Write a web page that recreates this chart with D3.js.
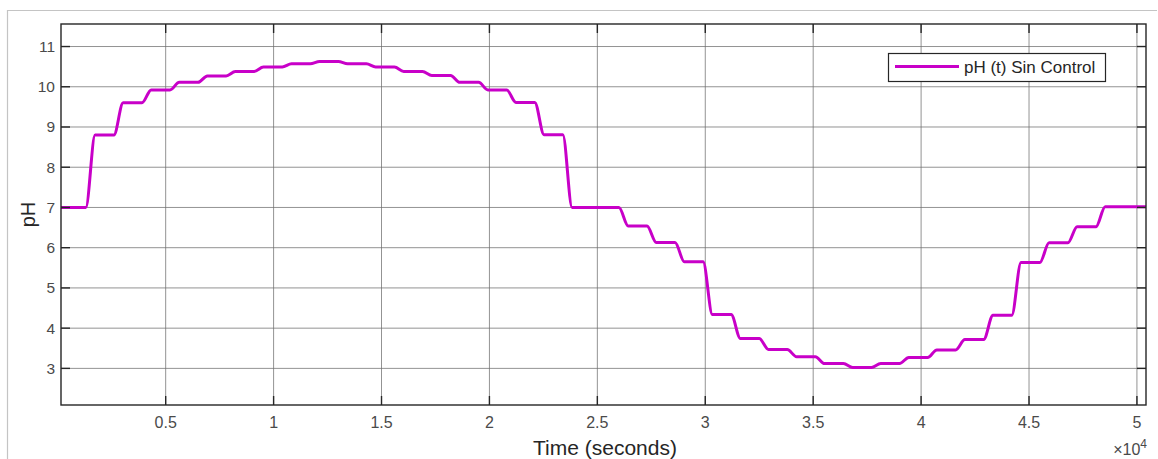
<html>
<head>
    <title>pH (t) Sin Control</title>
    <script src="https://d3js.org/d3.v7.min.js"></script>
</head>
<style>
    body {
        margin: 0;
        padding: 0;
        background: white;
    }

    text {
        font-family: "Liberation Sans", Arial, sans-serif;
    }
</style>

<body>
    <div id="chart"></div>
</body>

<script type="text/javascript">

    // step instants (s) and the pH level reached after each step
    const stepTimes = [0, 1300, 2600, 3900, 5200, 6500, 7800, 9100, 10400, 11700, 13000,
        14300, 15600, 16900, 18200, 19500, 20800, 22100, 23400, 24700, 26000,
        27300, 28600, 29900, 31200, 32500, 33800, 35100, 36400, 37700, 39000,
        40300, 41600, 42900, 44200, 45500, 46800, 48100];
    const pHLevels = [7.0, 8.8, 9.6, 9.92, 10.11, 10.27, 10.38, 10.49, 10.57, 10.63, 10.57,
        10.49, 10.38, 10.28, 10.11, 9.92, 9.61, 8.81, 7.0, 7.0, 6.54,
        6.13, 5.65, 4.34, 3.74, 3.47, 3.29, 3.12, 3.02, 3.12, 3.27,
        3.46, 3.72, 4.32, 5.63, 6.12, 6.52, 7.02];
    const tEnd = 50420;

    const xTicks = [5000, 10000, 15000, 20000, 25000, 30000, 35000, 40000, 45000, 50000];
    const xTickLabels = ["0.5", "1", "1.5", "2", "2.5", "3", "3.5", "4", "4.5", "5"];
    const yTicks = [3, 4, 5, 6, 7, 8, 9, 10, 11];

    const width = 1158, height = 459;
    const margin = { top: 24, right: 12, bottom: 54, left: 61 };
    const rampSec = 430; // settling width of each transition, drawing only

    const svg = d3.select("#chart")
        .append("svg")
        .attr("width", width)
        .attr("height", height);

    // outer figure frame (light)
    svg.append("path")
        .attr("d", "M7.5," + height + "V10.5H1157")
        .attr("fill", "none")
        .attr("stroke", "#c4c4c4")
        .attr("stroke-width", 1.2);

    const x = d3.scaleLinear()
        .domain([150, tEnd])
        .range([margin.left, width - margin.right]);
    const y = d3.scaleLinear()
        .domain([2.09, 11.56])
        .range([height - margin.bottom, margin.top]);

    const x0 = x.range()[0], x1 = x.range()[1];
    const y0 = y.range()[0], y1 = y.range()[1];

    // grid
    const grid = svg.append("g")
        .attr("stroke", "#6f6f6f")
        .attr("stroke-opacity", 0.75)
        .attr("stroke-width", 1);
    grid.selectAll("line.v")
        .data(xTicks)
        .enter()
        .append("line")
        .attr("x1", d => x(d)).attr("x2", d => x(d))
        .attr("y1", y1).attr("y2", y0);
    grid.selectAll("line.h")
        .data(yTicks)
        .enter()
        .append("line")
        .attr("x1", x0).attr("x2", x1)
        .attr("y1", d => y(d)).attr("y2", d => y(d));

    // line data: hold each level, then settle to the next one
    const pts = [];
    stepTimes.forEach((t, i) => {
        if (i === 0) {
            pts.push([t, pHLevels[0]]);
        } else {
            pts.push([t, pHLevels[i - 1]]);
            pts.push([t + rampSec, pHLevels[i]]);
        }
    });
    pts.push([tEnd, pHLevels[pHLevels.length - 1]]);

    const line = d3.line()
        .x(d => x(d[0]))
        .y(d => y(d[1]))
        .curve(d3.curveMonotoneX);

    svg.append("defs").append("clipPath")
        .attr("id", "clip")
        .append("rect")
        .attr("x", x0).attr("y", y1)
        .attr("width", x1 - x0).attr("height", y0 - y1);

    svg.append("path")
        .datum(pts)
        .attr("clip-path", "url(#clip)")
        .attr("d", line)
        .attr("fill", "none")
        .attr("stroke", "#c800c8")
        .attr("stroke-width", 3)
        .attr("stroke-linejoin", "round");

    // axes box with inward ticks on all sides
    const tickLen = 9;
    const ax = svg.append("g")
        .attr("stroke", "#262626")
        .attr("stroke-width", 1.4)
        .attr("fill", "none");
    ax.append("rect")
        .attr("x", x0).attr("y", y1)
        .attr("width", x1 - x0).attr("height", y0 - y1);
    xTicks.forEach(t => {
        ax.append("line").attr("x1", x(t)).attr("x2", x(t)).attr("y1", y0).attr("y2", y0 - tickLen);
        ax.append("line").attr("x1", x(t)).attr("x2", x(t)).attr("y1", y1).attr("y2", y1 + tickLen);
    });
    yTicks.forEach(v => {
        ax.append("line").attr("x1", x0).attr("x2", x0 + tickLen).attr("y1", y(v)).attr("y2", y(v));
        ax.append("line").attr("x1", x1).attr("x2", x1 - tickLen).attr("y1", y(v)).attr("y2", y(v));
    });

    // tick labels
    svg.selectAll("text.xt")
        .data(xTicks)
        .enter()
        .append("text")
        .attr("x", d => x(d))
        .attr("y", y0 + 23)
        .attr("text-anchor", "middle")
        .attr("font-size", 16)
        .attr("fill", "#4a4a4a")
        .text((d, i) => xTickLabels[i]);

    svg.selectAll("text.yt")
        .data(yTicks)
        .enter()
        .append("text")
        .attr("x", x0 - 6)
        .attr("y", d => y(d) + 5.5)
        .attr("text-anchor", "end")
        .attr("font-size", 15.5)
        .attr("fill", "#4a4a4a")
        .text(d => d);

    // exponent label
    const expo = svg.append("text")
        .attr("x", x1 + 1)
        .attr("y", 455)
        .attr("text-anchor", "end")
        .attr("font-size", 16)
        .attr("fill", "#4a4a4a");
    expo.append("tspan").text("\u00d710");
    expo.append("tspan").attr("dy", -7).attr("font-size", 12).text("4");

    // axis titles
    svg.append("text")
        .attr("x", 605)
        .attr("y", 455)
        .attr("text-anchor", "middle")
        .attr("font-size", 21)
        .attr("fill", "#262626")
        .text("Time (seconds)");

    svg.append("text")
        .attr("transform", "translate(35," + ((y0 + y1) / 2) + ") rotate(-90)")
        .attr("text-anchor", "middle")
        .attr("font-size", 20)
        .attr("fill", "#262626")
        .text("pH");

    // legend
    const lg = svg.append("g").attr("transform", "translate(888,53)");
    lg.append("rect")
        .attr("x", 0.5).attr("y", 0.5)
        .attr("width", 217).attr("height", 28)
        .attr("fill", "white")
        .attr("stroke", "#262626")
        .attr("stroke-width", 1.2);
    lg.append("line")
        .attr("x1", 7).attr("x2", 71)
        .attr("y1", 13.5).attr("y2", 13.5)
        .attr("stroke", "#c800c8")
        .attr("stroke-width", 3);
    lg.append("text")
        .attr("x", 76)
        .attr("y", 20)
        .attr("font-size", 17)
        .attr("fill", "#262626")
        .text("pH (t) Sin Control");

</script>

</html>
